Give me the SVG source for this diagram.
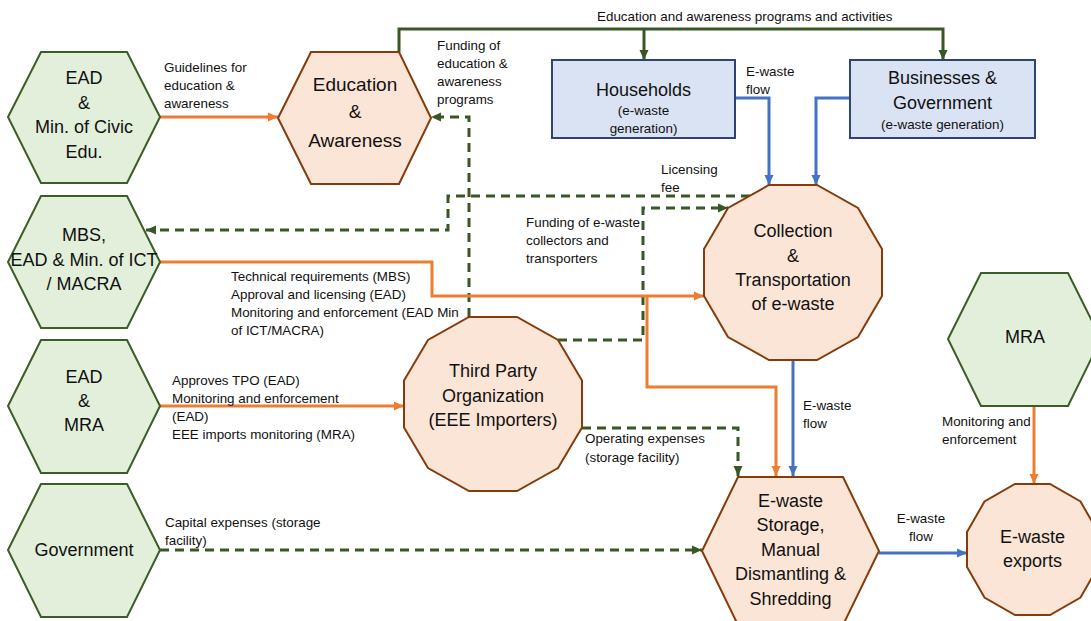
<svg xmlns="http://www.w3.org/2000/svg" width="1091" height="621" viewBox="0 0 1091 621">
<style>
.gh{fill:#e2efda;stroke:#3b5e28;stroke-width:2}
.oh{fill:#fbe5d6;stroke:#843c0c;stroke-width:2}
.bb{fill:#dae3f3;stroke:#2f4473;stroke-width:2}
.t{font-family:"Liberation Sans",Arial,sans-serif;fill:#111}
.n{font-size:18px;text-anchor:middle}
.s{font-size:13.4px}
.sm{font-size:13.4px;text-anchor:middle}
.or{fill:none;stroke:#ed7d31;stroke-width:3}
.bl{fill:none;stroke:#4472c4;stroke-width:3}
.gr{fill:none;stroke:#385723;stroke-width:3}
.gd{fill:none;stroke:#385723;stroke-width:3;stroke-dasharray:9 6}
</style>
<defs>
<marker id="ao" markerUnits="userSpaceOnUse" markerWidth="10" markerHeight="10" refX="10" refY="5" orient="auto"><path d="M0,0.5 L10,5 L0,9.5 z" fill="#ed7d31"/></marker>
<marker id="ab" markerUnits="userSpaceOnUse" markerWidth="10" markerHeight="10" refX="10" refY="5" orient="auto"><path d="M0,0.5 L10,5 L0,9.5 z" fill="#4472c4"/></marker>
<marker id="ag" markerUnits="userSpaceOnUse" markerWidth="10" markerHeight="10" refX="10" refY="5" orient="auto"><path d="M0,0.5 L10,5 L0,9.5 z" fill="#385723"/></marker>
</defs>
<rect width="1091" height="621" fill="#ffffff"/>

<g id="connectors">
<path class="or" d="M160,117 H278" marker-end="url(#ao)"/>
<path class="gr" d="M399,52 V29 H943 V60" marker-end="url(#ag)"/>
<path class="gr" d="M644,29 V60" marker-end="url(#ag)"/>
<path class="gd" d="M469,317 V117 H431" marker-end="url(#ag)"/>
<path class="gd" d="M750,196 H448 V230 H146" marker-end="url(#ag)"/>
<path class="gd" d="M558,340 H643 V208 H728" marker-end="url(#ag)"/>
<path class="or" d="M160,262 H432 V296 H704" marker-end="url(#ao)"/>
<path class="or" d="M647,296 V387 H776 V476" marker-end="url(#ao)"/>
<path class="or" d="M160,406 H404" marker-end="url(#ao)"/>
<path class="bl" d="M735,98 H769 V185" marker-end="url(#ab)"/>
<path class="bl" d="M850,98 H816 V185" marker-end="url(#ab)"/>
<path class="bl" d="M793,360 V476" marker-end="url(#ab)"/>
<path class="gd" d="M582,428 H738 V476" marker-end="url(#ag)"/>
<path class="gd" d="M160,550 H702" marker-end="url(#ag)"/>
<path class="bl" d="M879,553 H967" marker-end="url(#ab)"/>
<path class="or" d="M1034,406 V484" marker-end="url(#ao)"/>

<text class="t s" x="597" y="21">Education and awareness programs and activities</text>
<text class="t s" x="164" y="72">Guidelines for</text>
<text class="t s" x="164" y="90">education &amp;</text>
<text class="t s" x="164" y="108">awareness</text>
<text class="t s" x="437" y="50">Funding of</text>
<text class="t s" x="437" y="68">education &amp;</text>
<text class="t s" x="437" y="86">awareness</text>
<text class="t s" x="437" y="104">programs</text>
<text class="t s" x="746" y="76">E-waste</text>
<text class="t s" x="746" y="94">flow</text>
<text class="t s" x="661" y="174">Licensing</text>
<text class="t s" x="661" y="192">fee</text>
<text class="t s" x="526" y="227">Funding of e-waste</text>
<text class="t s" x="526" y="245">collectors and</text>
<text class="t s" x="526" y="263">transporters</text>
<text class="t s" x="231" y="281">Technical requirements (MBS)</text>
<text class="t s" x="231" y="299">Approval and licensing (EAD)</text>
<text class="t s" x="231" y="317">Monitoring and enforcement (EAD Min</text>
<text class="t s" x="231" y="335">of ICT/MACRA)</text>
<text class="t s" x="172" y="385">Approves TPO (EAD)</text>
<text class="t s" x="172" y="403">Monitoring and enforcement</text>
<text class="t s" x="172" y="421">(EAD)</text>
<text class="t s" x="172" y="439">EEE imports monitoring (MRA)</text>
<text class="t s" x="803" y="410">E-waste</text>
<text class="t s" x="803" y="428">flow</text>
<text class="t s" x="585" y="443">Operating expenses</text>
<text class="t s" x="585" y="462">(storage facility)</text>
<text class="t s" x="165" y="527">Capital expenses (storage</text>
<text class="t s" x="165" y="545">facility)</text>
<text class="t s" x="942" y="426">Monitoring and</text>
<text class="t s" x="942" y="444">enforcement</text>
<text class="t sm" x="921" y="523">E-waste</text>
<text class="t sm" x="921" y="541">flow</text>
</g>

<g id="ead-civic">
<polygon class="gh" points="8,117 41,52 127,52 160,117 127,183 41,183"/>
<text class="t n" x="84" y="84">EAD</text>
<text class="t n" x="84" y="109">&amp;</text>
<text class="t n" x="84" y="133">Min. of Civic</text>
<text class="t n" x="84" y="158">Edu.</text>
</g>
<g id="mbs">
<polygon class="gh" points="8,262 41,196 127,196 160,262 127,328 41,328"/>
<text class="t n" x="84" y="241">MBS,</text>
<text class="t n" x="84" y="266">EAD &amp; Min. of ICT</text>
<text class="t n" x="84" y="290">/ MACRA</text>
</g>
<g id="ead-mra">
<polygon class="gh" points="8,406 41,340 127,340 160,406 127,473 41,473"/>
<text class="t n" x="84" y="383">EAD</text>
<text class="t n" x="84" y="407">&amp;</text>
<text class="t n" x="84" y="431">MRA</text>
</g>
<g id="government">
<polygon class="gh" points="8,550 41,484 127,484 160,550 127,617 41,617"/>
<text class="t n" x="84" y="556">Government</text>
</g>
<g id="education">
<polygon class="oh" points="278,118 311,52 399,52 431,118 399,184 311,184"/>
<text class="t n" x="355" y="91" style="font-size:19px">Education</text>
<text class="t n" x="355" y="118" style="font-size:19px">&amp;</text>
<text class="t n" x="355" y="147" style="font-size:19px">Awareness</text>
</g>
<g id="households">
<rect class="bb" x="552" y="60" width="183" height="78"/>
<text class="t n" x="643.5" y="96">Households</text>
<text class="t sm" x="643.5" y="115">(e-waste</text>
<text class="t sm" x="643.5" y="133">generation)</text>
</g>
<g id="businesses">
<rect class="bb" x="850" y="60" width="185" height="78"/>
<text class="t n" x="942.5" y="84">Businesses &amp;</text>
<text class="t n" x="942.5" y="109">Government</text>
<text class="t sm" x="942.5" y="129">(e-waste generation)</text>
</g>
<g id="collection">
<polygon class="oh" points="882,249 858,208 817,185 769,185 728,208 704,249 704,296 728,337 769,360 817,360 858,337 882,296"/>
<text class="t n" x="793" y="237">Collection</text>
<text class="t n" x="793" y="262">&amp;</text>
<text class="t n" x="793" y="286">Transportation</text>
<text class="t n" x="793" y="310">of e-waste</text>
</g>
<g id="third-party">
<polygon class="oh" points="582,380.5 558,340 517,317 469,317 428,340 404,380.5 404,427.5 428,468 469,491 517,491 558,468 582,427.5"/>
<text class="t n" x="493" y="377">Third Party</text>
<text class="t n" x="493" y="402">Organization</text>
<text class="t n" x="493" y="426">(EEE Importers)</text>
</g>
<g id="storage">
<polygon class="oh" points="702,551 738,477 843,477 879,551 843,625 738,625"/>
<text class="t n" x="790.5" y="507">E-waste</text>
<text class="t n" x="790.5" y="531">Storage,</text>
<text class="t n" x="790.5" y="556">Manual</text>
<text class="t n" x="790.5" y="580">Dismantling &amp;</text>
<text class="t n" x="790.5" y="605">Shredding</text>
</g>
<g id="mra">
<polygon class="gh" points="948,339 981,273 1068,273 1101,339 1068,406 981,406"/>
<text class="t n" x="1025" y="343">MRA</text>
</g>
<g id="exports">
<polygon class="oh" points="1098,532 1080.5,501.5 1050,484 1015,484 984.5,501.5 967,532 967,567 984.5,597.5 1015,615 1050,615 1080.5,597.5 1098,567"/>
<text class="t n" x="1032.5" y="543">E-waste</text>
<text class="t n" x="1032.5" y="567">exports</text>
</g>
</svg>
